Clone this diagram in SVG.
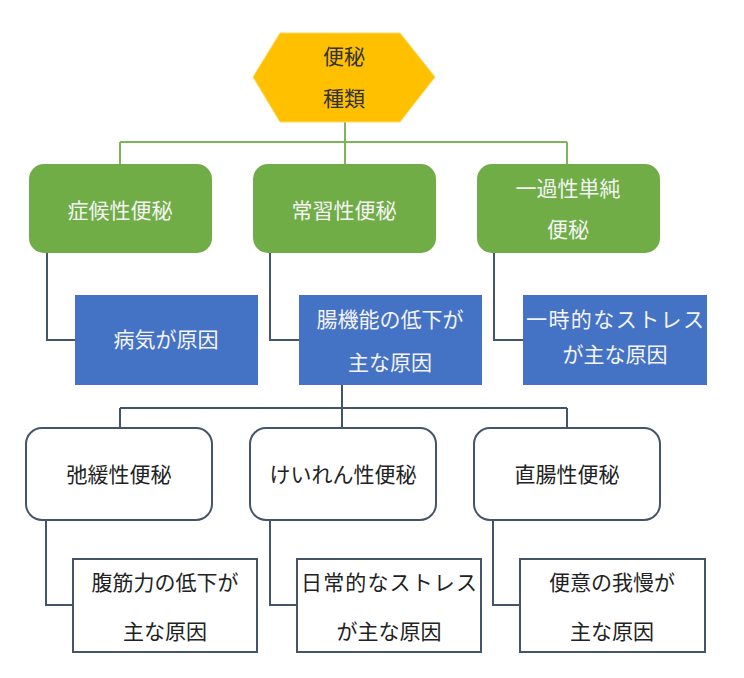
<svg xmlns="http://www.w3.org/2000/svg" width="744" height="678" viewBox="0 0 744 678">
<style>
text{font-family:"Noto Sans CJK JP","Noto Sans CJK SC",sans-serif;font-size:21px;text-anchor:middle;dominant-baseline:central}
.g{fill:#70AD47}
.b{fill:#4472C4}
.w{fill:#fff;stroke:#44546A;stroke-width:2}
.lt{fill:#F4F4F4}
.dk{fill:#222}
.cg{fill:none;stroke:#7DB55A;stroke-width:2}
.cs{fill:none;stroke:#44546A;stroke-width:2}
</style>
<rect width="744" height="678" fill="#fff"/>
<g id="connectors">
<path class="cg" d="M345 122V142M120 142H567M120 142V164M345 142V164M567 142V164"/>
<path class="cs" d="M47 253V340H75M270 253V340H299M494 253V340H523"/>
<path class="cs" d="M342 385V428M120 408H567M120 408V428M567 408V428"/>
<path class="cs" d="M46 520V605H73M270 520V605H297M493 520V605H520"/>
</g>
<g id="root">
<polygon points="280,33 400,33 435,77 400,122 280,122 253,77" fill="#FFC000" stroke="#FFD966" stroke-width="1"/>
<text class="dk" x="344" y="55" style="fill:#333">便秘</text>
<text class="dk" x="344" y="97" style="fill:#333">種類</text>
</g>
<g id="n1"><rect class="g" x="29" y="164" width="183" height="89" rx="15"/><text class="lt" x="120" y="209">症候性便秘</text></g>
<g id="n2"><rect class="g" x="253" y="164" width="183" height="89" rx="15"/><text class="lt" x="344" y="209">常習性便秘</text></g>
<g id="n3"><rect class="g" x="477" y="164" width="183" height="89" rx="15"/><text class="lt" x="568" y="187">一過性単純</text><text class="lt" x="568" y="228">便秘</text></g>
<g id="b1"><rect class="b" x="75" y="295" width="183" height="90"/><text class="lt" x="166" y="338">病気が原因</text></g>
<g id="b2"><rect class="b" x="299" y="295" width="183" height="90"/><text class="lt" x="390" y="318">腸機能の低下が</text><text class="lt" x="390" y="361">主な原因</text></g>
<g id="b3"><rect class="b" x="523" y="295" width="184" height="90"/><text class="lt" x="615" y="318" textLength="178" lengthAdjust="spacing">一時的なストレス</text><text class="lt" x="615" y="353">が主な原因</text></g>
<g id="w1"><rect class="w" x="26" y="428" width="186" height="92" rx="16"/><text class="dk" x="119" y="473">弛緩性便秘</text></g>
<g id="w2"><rect class="w" x="250" y="428" width="186" height="92" rx="16"/><text class="dk" x="343" y="473">けいれん性便秘</text></g>
<g id="w3"><rect class="w" x="474" y="428" width="186" height="92" rx="16"/><text class="dk" x="567" y="473">直腸性便秘</text></g>
<g id="c1"><rect class="w" x="73" y="559" width="184" height="93"/><text class="dk" x="165" y="581">腹筋力の低下が</text><text class="dk" x="165" y="630">主な原因</text></g>
<g id="c2"><rect class="w" x="297" y="559" width="184" height="93"/><text class="dk" x="389" y="581" textLength="176" lengthAdjust="spacing">日常的なストレス</text><text class="dk" x="389" y="630">が主な原因</text></g>
<g id="c3"><rect class="w" x="520" y="559" width="185" height="93"/><text class="dk" x="612" y="581">便意の我慢が</text><text class="dk" x="612" y="630">主な原因</text></g>
</svg>
